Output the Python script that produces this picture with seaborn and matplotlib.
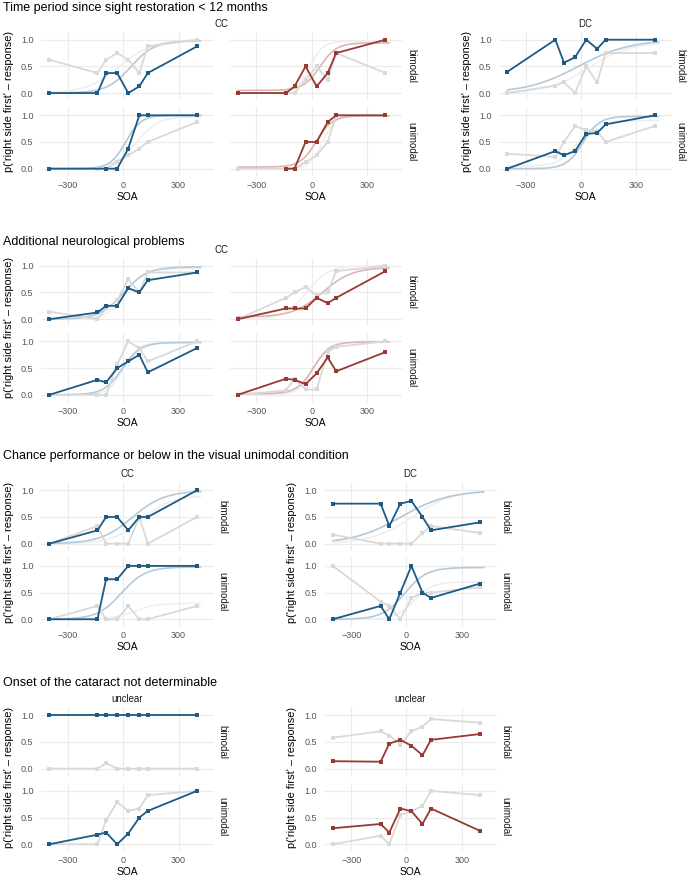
import numpy as np
import pandas as pd
import matplotlib.pyplot as plt
import seaborn as sns

nan = np.nan

# SOA levels (ms) and axis ticks
soa = [-400, -140, -93, -33, 27, 87, 133, 400]
x_ticks = [-300, 0, 300]
y_ticks = [0, 0.5, 1.0]
y_ticklabels = ["0.0", "0.5", "1.0"]

section_titles = ["Time period since sight restoration < 12 months",
                  "Additional neurological problems",
                  "Chance performance or below in the visual unimodal condition",
                  "Onset of the cataract not determinable"]
row_labels = ["bimodal", "unimodal"]

# --- time period < 12 months ---
tp_cc1_bi = [0, 0, 0.375, 0.375, 0, 0.125, 0.375, 0.875]
tp_cc1_bi_ref = [0.625, 0.375, 0.625, 0.75, 0.625, 0.375, 0.875, 1.0]
tp_cc1_uni = [0, nan, 0, 0, 0.375, 1.0, 1.0, 1.0]
tp_cc1_uni_ref = [0, 0, 0, 0.125, 0.25, 0.375, 0.5, 0.875]
tp_cc2_bi = [0, 0, 0.125, 0.5, 0.125, 0.375, 0.75, 1.0]
tp_cc2_bi_ref = [0, 0, 0, 0.25, 0.5, 0.25, 0.75, 0.375]
tp_cc2_uni = [nan, 0, 0, 0.5, 0.5, 0.875, 1.0, 1.0]
tp_cc2_uni_ref = [0, 0, 0, 0.125, 0.25, 0.5, 1.0, 1.0]
tp_dc_bi = [0.4, 1.0, 0.57, 0.67, 1.0, 0.83, 1.0, 1.0]
tp_dc_bi_ref = [0, 0.14, 0.2, 0, 0.5, 0.2, 0.75, 0.75]
tp_dc_uni = [0, 0.33, 0.25, 0.33, 0.65, 0.67, 0.83, 1.0]
tp_dc_uni_ref = [0.28, 0.22, 0.5, 0.8, 0.72, 0.7, 0.5, 0.8]

# --- additional neurological problems ---
nd_cc1_bi = [0, 0.125, 0.25, 0.25, 0.58, 0.5, 0.73, 0.875]
nd_cc1_bi_ref = [0.14, 0, 0.2, 0.35, 0.75, 0.5, 0.875, 0.875]
nd_cc1_uni = [0, 0.28, 0.23, 0.5, 0.625, 0.75, 0.42, 0.875]
nd_cc1_uni_ref = [0, 0, 0, 0.57, 1.0, 0.875, 0.625, 1.0]
nd_cc2_bi = [0, 0.2, 0.2, 0.2, 0.4, 0.3, 0.4, 0.9]
nd_cc2_bi_ref = [0, 0.4, 0.5, 0.6, 0.45, 0.5, 0.9, 1.0]
nd_cc2_uni = [0, 0.3, 0.28, 0.2, 0.4, 0.7, 0.44, 0.8]
nd_cc2_uni_ref = [0, 0.08, 0.3, 0.1, 0.1, 0.8, 0.9, 1.0]

# --- chance performance ---
ch_cc_bi = [0, 0.25, 0.5, 0.5, 0.25, 0.5, 0.5, 1.0]
ch_cc_bi_ref = [0, 0.33, 0, 0, 0, 0.5, 0, 0.5]
ch_cc_uni = [0, 0, 0.75, 0.75, 1.0, 1.0, 1.0, 1.0]
ch_cc_uni_ref = [0, 0.25, 0, 0, 0.25, 0, 0, 0.25]
ch_dc_bi = [0.75, 0.75, 0.33, 0.75, 0.8, 0.5, 0.25, 0.4]
ch_dc_bi_ref = [0.17, 0, 0, 0, 0, 0.2, 0.33, 0.2]
ch_dc_uni = [0, 0.25, 0, 0.5, 1.0, 0.5, 0.4, 0.67]
ch_dc_uni_ref = [1.0, 0.33, 0.25, 0, 0.4, 0.5, 0.5, 0.6]

# --- onset not determinable ---
on_l_bi = [1, 1, 1, 1, 1, 1, 1, 1]
on_l_bi_ref = [0, 0, 0.1, 0, 0, 0, 0, 0]
on_l_uni = [0, 0.18, 0.22, 0, 0.2, 0.5, 0.625, 1.0]
on_l_uni_ref = [0, 0, 0.45, 0.79, 0.625, 0.67, 0.92, 1.0]
on_r_bi = [0.14, 0.13, 0.47, 0.54, 0.43, 0.25, 0.54, 0.65]
on_r_bi_ref = [0.58, 0.7, 0.62, 0.45, 0.7, 0.79, 0.93, 0.86]
on_r_uni = [0.3, 0.38, 0.22, 0.67, 0.62, 0.38, 0.67, 0.25]
on_r_uni_ref = [0, 0.16, 0, 0.55, 0.62, 0.72, 1.0, 0.92]

# fitted psychometric curves: midpoint, width, lower, upper (read by eye)
tp_cc1_fit = [(40, 65, 0, 0.98), (13, 42, 0, 1.0)]
tp_cc1_fit_ref = [(-20, 90, 0, 1.0), (70, 60, 0, 0.98)]
tp_cc2_fit = [(45, 45, 0.05, 0.94), (25, 43, 0.03, 0.99)]
tp_cc2_fit_ref = [(-10, 35, 0, 0.97), (60, 35, 0, 1.0)]
tp_dc_fit = [(-15, 140, 0, 1.0), (10, 45, 0, 0.98)]
tp_dc_fit_ref = [(40, 110, 0, 0.95), (-20, 50, 0.05, 0.9)]
nd_cc1_fit = [(0, 65, 0, 0.98), (-5, 50, 0, 0.98)]
nd_cc1_fit_ref = [(10, 50, 0, 0.95), (0, 40, 0, 0.98)]
nd_cc2_fit = [(60, 80, 0.04, 0.97), (10, 45, 0.02, 0.99)]
nd_cc2_fit_ref = [(-30, 60, 0, 1.0), (10, 40, 0, 1.0)]
ch_cc_fit = [(50, 87, 0, 0.99), (-10, 65, 0, 0.98)]
ch_cc_fit_ref = [(100, 80, 0, 0.9), (60, 60, 0, 0.3)]
ch_dc_fit = [(-30, 130, 0, 1.0), (-10, 60, 0, 0.97)]
ch_dc_fit_ref = [(30, 110, 0, 1.0), (40, 50, 0, 0.7)]

BLUE, RED = "#1d5a84", "#973a31"
BLUE_FIT, RED_FIT = "#b4c9d9", "#dcb6b1"
GREY, GREY_FIT = "#d9d9d9", "#efefef"

sns.set_theme(style="white")
plt.rcParams["font.family"] = ["Liberation Sans", "DejaVu Sans"]

W, H = 694, 882
fig = plt.figure(figsize=(W / 100, H / 100), dpi=100)

PW, PH, GAP = 172.4, 68.3, 7.3
XLIM, YLIM = (-445, 490), (-0.13, 1.15)
fit_x = np.linspace(-400, 420, 200)


def psy(x, p):
    m, s, lo, hi = p
    return lo + (hi - lo) / (1 + np.exp(-(x - m) / s))


def series(ax, vals, color, lw=1.3, ms=3.3):
    df = pd.DataFrame({"soa": soa, "p": vals}).dropna()
    sns.lineplot(data=df, x="soa", y="p", ax=ax, color=color, marker="s",
                 markersize=ms, markeredgewidth=0, linewidth=lw,
                 estimator=None, errorbar=None, sort=False)


def panel(x0, y0, first_col, last_row):
    ax = fig.add_axes([x0 / W, 1 - (y0 + PH) / H, PW / W, PH / H])
    ax.set_xlim(*XLIM)
    ax.set_ylim(*YLIM)
    ax.set_xticks(x_ticks)
    ax.set_yticks(y_ticks)
    ax.set_yticklabels(y_ticklabels if first_col else [])
    if not last_row:
        ax.set_xticklabels([])
    ax.grid(True, color="#ebebeb", linewidth=0.8)
    ax.set_axisbelow(True)
    for sp in ax.spines.values():
        sp.set_visible(False)
    ax.tick_params(length=0, labelsize=6.5, colors="#555555")
    ax.tick_params(axis="x", pad=3.6)
    ax.tick_params(axis="y", pad=5.5)
    return ax


def group(top, lefts, strip, cols):
    # cols: list of (color, fitcolor, bi, bi_ref, uni, uni_ref, fit, fit_ref)
    for ci, (x0, c) in enumerate(zip(lefts, cols)):
        color, fitcolor = c[0], c[1]
        data = [(c[2], c[3]), (c[4], c[5])]
        for ri in range(2):
            y0 = top + ri * (PH + GAP)
            ax = panel(x0, y0, ci == 0, ri == 1)
            if c[6] is not None:
                sns.lineplot(x=fit_x, y=psy(fit_x, c[7][ri]), ax=ax,
                             color=GREY_FIT, linewidth=1.2)
                sns.lineplot(x=fit_x, y=psy(fit_x, c[6][ri]), ax=ax,
                             color=fitcolor, linewidth=1.2)
            series(ax, data[ri][1], GREY)
            series(ax, data[ri][0], color)
            ax.set_xlabel("")
            ax.set_ylabel("")
            if ci == len(lefts) - 1:
                fig.text((x0 + PW + 9) / W, 1 - (y0 + PH / 2) / H,
                         row_labels[ri], rotation=-90, ha="center",
                         va="center", fontsize=7.0, color="#1a1a1a")
        fig.text((x0 + PW / 2) / W, 1 - (top + 2 * PH + GAP + 21) / H, "SOA",
                 ha="center", va="center", fontsize=7.4, color="black")
    cx = (lefts[0] + lefts[-1] + PW) / 2
    fig.text(cx / W, 1 - (top - 8) / H, strip, ha="center", va="center",
             fontsize=6.9, color="#1a1a1a")
    fig.text((lefts[0] - 32) / W, 1 - (top + PH + GAP / 2 - 2) / H,
             "p('right side first' \u2013 response)", rotation=90,
             ha="center", va="center", fontsize=7.9, color="black")


tops = [31.7, 257.8, 482.3, 707.3]
title_y = [8, 241.7, 455.7, 682.7]
for t, ty in zip(section_titles, title_y):
    fig.text(3 / W, 1 - ty / H, t, ha="left", va="center", fontsize=9.0,
             color="black")

A, B = 41.2, 229.6

# section 1
group(tops[0], [A, B], "CC", [
    (BLUE, BLUE_FIT, tp_cc1_bi, tp_cc1_bi_ref, tp_cc1_uni, tp_cc1_uni_ref, tp_cc1_fit, tp_cc1_fit_ref),
    (RED, RED_FIT, tp_cc2_bi, tp_cc2_bi_ref, tp_cc2_uni, tp_cc2_uni_ref, tp_cc2_fit, tp_cc2_fit_ref)])
group(tops[0], [499.1], "DC", [
    (BLUE, BLUE_FIT, tp_dc_bi, tp_dc_bi_ref, tp_dc_uni, tp_dc_uni_ref, tp_dc_fit, tp_dc_fit_ref)])

# section 2
group(tops[1], [A, B], "CC", [
    (BLUE, BLUE_FIT, nd_cc1_bi, nd_cc1_bi_ref, nd_cc1_uni, nd_cc1_uni_ref, nd_cc1_fit, nd_cc1_fit_ref),
    (RED, RED_FIT, nd_cc2_bi, nd_cc2_bi_ref, nd_cc2_uni, nd_cc2_uni_ref, nd_cc2_fit, nd_cc2_fit_ref)])

# section 3
group(tops[2], [A], "CC", [
    (BLUE, BLUE_FIT, ch_cc_bi, ch_cc_bi_ref, ch_cc_uni, ch_cc_uni_ref, ch_cc_fit, ch_cc_fit_ref)])
group(tops[2], [324.4], "DC", [
    (BLUE, BLUE_FIT, ch_dc_bi, ch_dc_bi_ref, ch_dc_uni, ch_dc_uni_ref, ch_dc_fit, ch_dc_fit_ref)])

# section 4 (no fitted curves)
group(tops[3], [A], "unclear", [
    (BLUE, None, on_l_bi, on_l_bi_ref, on_l_uni, on_l_uni_ref, None, None)])
group(tops[3], [324.4], "unclear", [
    (RED, None, on_r_bi, on_r_bi_ref, on_r_uni, on_r_uni_ref, None, None)])

fig.savefig("out.png", dpi=100)
